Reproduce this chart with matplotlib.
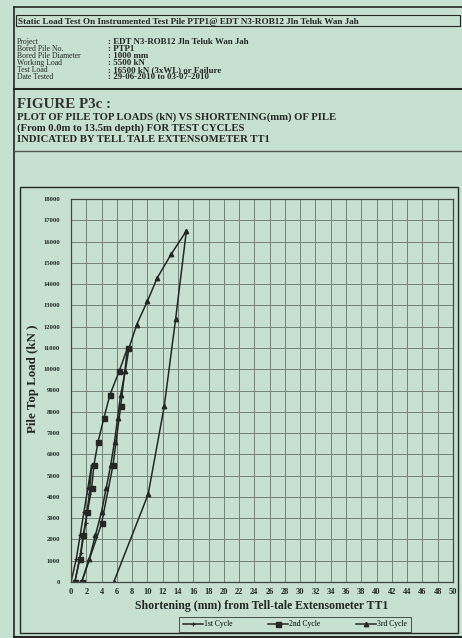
import matplotlib
matplotlib.use("Agg")
import matplotlib.pyplot as plt
from matplotlib.lines import Line2D
from matplotlib.patches import Rectangle

# load (kN) vs shortening (mm)
c1_short = [0.0, 0.7, 1.2, 1.7, 2.2, 2.7, 2.4, 1.9, 1.3, 0.5]
c1_load = [0, 1100, 2200, 3300, 4400, 5500, 4125, 2750, 1375, 0]

c2_short = [0.5, 1.15, 1.6, 2.15, 2.7, 3.0, 3.55, 4.3, 5.1, 6.3, 7.4, 6.5, 5.5, 4.0, 1.4]
c2_load = [0, 1100, 2200, 3300, 4400, 5500, 6600, 7700, 8800, 9900, 11000, 8250, 5500, 2750, 0]

c3_short = [1.4, 2.4, 3.2, 4.0, 4.6, 5.2, 5.7, 6.1, 6.5, 7.1, 7.6, 8.6, 10.0, 11.3, 13.1, 15.1,
            13.7, 12.2, 10.1, 5.6]
c3_load = [0, 1100, 2200, 3300, 4400, 5500, 6600, 7700, 8800, 9900, 11000, 12100, 13200, 14300,
           15400, 16500, 12375, 8250, 4125, 0]

x_ticks = list(range(0, 51, 2))
y_ticks = list(range(0, 18001, 1000))

info_keys = ["Project", "Bored Pile No.", "Bored Pile Diameter", "Working Load", "Test Load", "Date Tested"]
info_vals = [": EDT N3-ROB12 Jln Teluk Wan Jah", ": PTP1", ": 1000 mm", ": 5500 kN",
             ": 16500 kN (3xWL) or Failure", ": 29-06-2010 to 03-07-2010"]

bg = "#c6e1cf"
ink = "#262626"
W, H = 462, 638

plt.rcParams["font.family"] = ["Liberation Serif", "DejaVu Serif"]

fig = plt.figure(figsize=(W / 100, H / 100), dpi=100)
fig.patch.set_facecolor(bg)


def px(x, y):
    return x / W, 1 - y / H


def hline(x0, x1, y, lw=1.0, color=ink):
    fig.add_artist(Line2D([x0 / W, x1 / W], [1 - y / H, 1 - y / H], lw=lw, color=color))


def vline(x, y0, y1, lw=1.0, color=ink):
    fig.add_artist(Line2D([x / W, x / W], [1 - y0 / H, 1 - y1 / H], lw=lw, color=color))


# page border
hline(14, W, 7, lw=1.2)
vline(14, 7, H, lw=1.2)
hline(14, W, 637, lw=1.5)

# title box
fig.add_artist(Rectangle(px(16, 26), (W - 18) / W, 11 / H, fill=False, lw=0.8, ec=ink))
fig.text(*px(18, 23.5), "Static Load Test On Instrumented Test Pile PTP1@ EDT N3-ROB12 Jln Teluk Wan Jah",
         fontsize=6.6, fontweight="bold", color=ink, va="baseline")

for i, (k, v) in enumerate(zip(info_keys, info_vals)):
    y = 44 + i * 7.0
    fig.text(*px(17, y), k, fontsize=5.6, color=ink, va="baseline")
    fig.text(*px(108, y), v, fontsize=6.4, fontweight="bold", color=ink, va="baseline")

hline(14, W, 89, lw=1.5)

fig.text(*px(17, 108), "FIGURE P3c :", fontsize=10.8, fontweight="bold", color="#333333", va="baseline")
fig.text(*px(17, 120), "PLOT OF PILE TOP LOADS (kN) VS SHORTENING(mm) OF PILE",
         fontsize=7.7, fontweight="bold", color=ink, va="baseline")
fig.text(*px(17, 131), "(From 0.0m to 13.5m depth) FOR TEST CYCLES",
         fontsize=7.7, fontweight="bold", color=ink, va="baseline")
fig.text(*px(17, 142), "INDICATED BY TELL TALE EXTENSOMETER TT1",
         fontsize=7.7, fontweight="bold", color=ink, va="baseline")

hline(14, W, 151, lw=1.0, color="#555555")

# chart frame
fig.add_artist(Rectangle(px(20, 633), (458 - 20) / W, (633 - 187) / H, fill=False, lw=1.0, ec=ink))

ax = fig.add_axes([71 / W, 1 - 582 / H, (453 - 71) / W, (582 - 199) / H])
ax.set_facecolor(bg)
ax.set_xlim(0, 50)
ax.set_ylim(0, 18000)
ax.set_xticks(x_ticks)
ax.set_yticks(y_ticks)
ax.set_xticklabels([str(v) for v in x_ticks], fontsize=6, fontweight="bold", color=ink)
ax.set_yticklabels([str(v) for v in y_ticks], fontsize=4.8, fontweight="bold", color=ink)
ax.tick_params(axis="y", length=0, pad=8)
ax.tick_params(axis="x", length=0, pad=4)
ax.grid(True, color="#76817a", lw=0.7)
ax.set_axisbelow(True)
for s in ax.spines.values():
    s.set_color("#444444")
    s.set_linewidth(0.9)

ax.plot(c1_short, c1_load, color=ink, lw=1.1, marker="+", ms=3.5, mew=0.9, label="1st Cycle")
ax.plot(c2_short, c2_load, color=ink, lw=1.1, marker="s", ms=3.6, label="2nd Cycle")
ax.plot(c3_short, c3_load, color=ink, lw=1.1, marker="^", ms=3.2, label="3rd Cycle")

ax.set_xlabel("Shortening (mm) from Tell-tale Extensometer TT1", fontsize=8.5, fontweight="bold",
              color=ink, labelpad=3)
ax.set_ylabel("Pile Top Load (kN )", fontsize=9.3, fontweight="bold", color=ink, labelpad=2)
ax.yaxis.set_label_coords(-0.085, 0.53)

leg = fig.legend(loc="center", bbox_to_anchor=((172 + 418) / 2 / W, 1 - 624.5 / H), ncol=3,
                 fontsize=5.5, frameon=True, fancybox=False, edgecolor=ink, facecolor=bg,
                 handlelength=2.6, handletextpad=0.2, columnspacing=4.6, borderpad=0.5)
leg.get_frame().set_linewidth(0.7)

fig.savefig("out.png", dpi=100, facecolor=bg)
